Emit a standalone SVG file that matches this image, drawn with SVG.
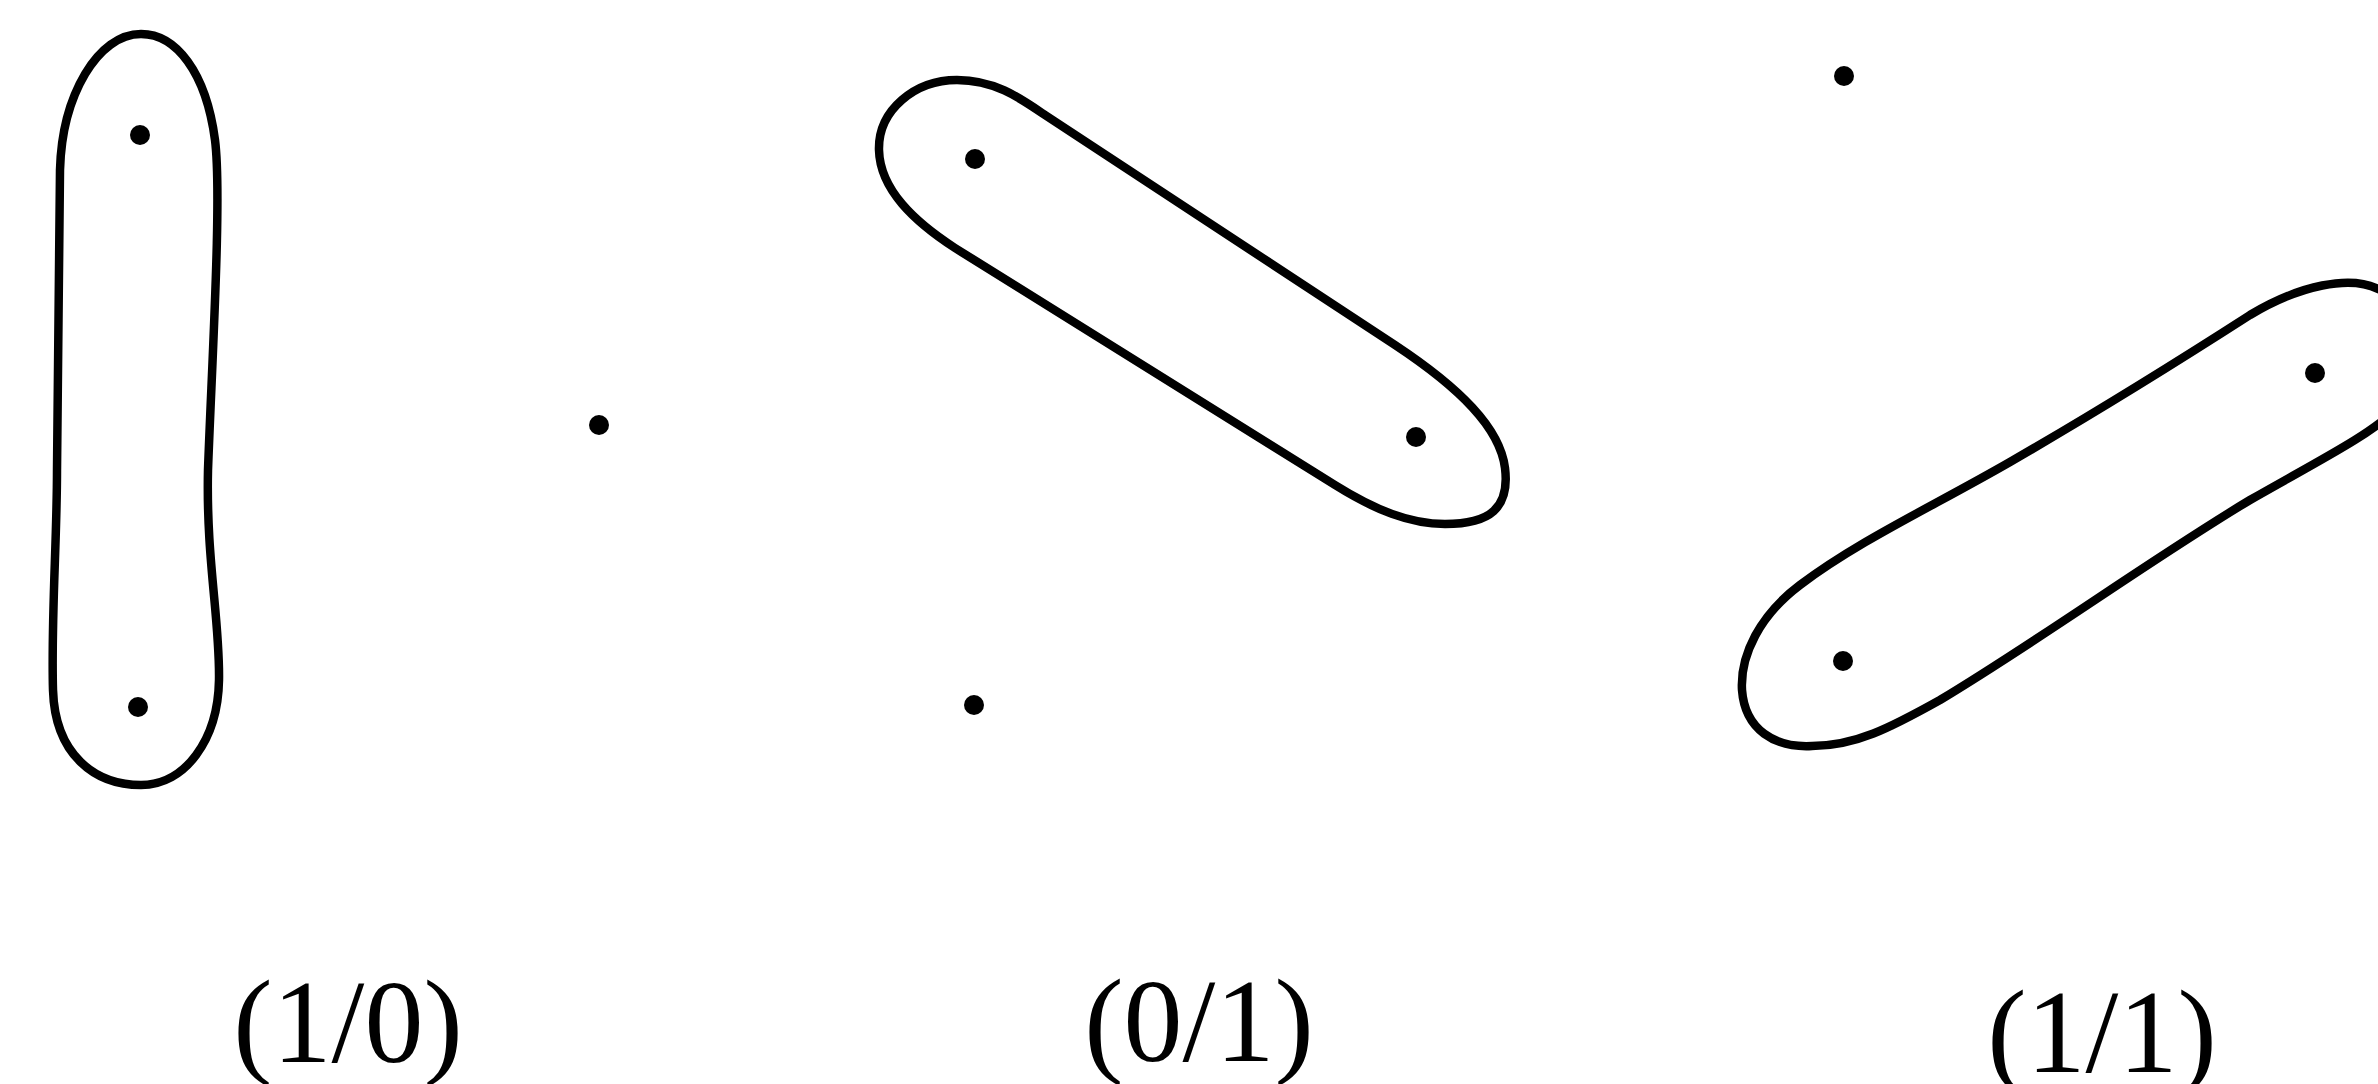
<svg xmlns="http://www.w3.org/2000/svg" width="2378" height="1084" viewBox="0 0 2378 1084">
<style>
.loop{fill:none;stroke:#000;stroke-width:8.5;stroke-linejoin:round}
.pt{fill:#000}
.lbl{font-family:"Liberation Serif","Times New Roman",serif;font-size:118px;fill:#000;text-anchor:middle}
</style>
<rect width="2378" height="1084" fill="#fff"/>
<g id="panel-1-0">
<path class="loop" d="M141,34 C176,34 206,72 215,140 C222,195 212,360 208,470 C206,560 220,620 219,680 C218,740 185,785 141,785 C95,785 55,755 53,690 C51,620 57,540 57,470 C58,380 59,260 60,170 C62,95 98,34 141,34 Z"/>
<circle class="pt" cx="140" cy="135" r="10"/>
<circle class="pt" cx="138" cy="707" r="10"/>
<circle class="pt" cx="599" cy="425" r="10"/>
<text class="lbl" x="348" y="1062">(1/0)</text>
</g>
<g id="panel-0-1">
<path class="loop" d="M957,80 C995,80 1020,98 1045,115 L1395,345 C1460,388 1500,428 1505,468 C1510,508 1490,524 1445,524 C1410,524 1375,510 1335,485 L955,248 C915,222 880,190 879,150 C878,110 915,80 957,80 Z"/>
<circle class="pt" cx="975" cy="159" r="10"/>
<circle class="pt" cx="1416" cy="437" r="10"/>
<circle class="pt" cx="974" cy="705" r="10"/>
<text class="lbl" x="1199" y="1061">(0/1)</text>
</g>
<g id="panel-1-1">
<path class="loop" d="M1812,746 C1855,746 1890,728 1940,700 C2040,640 2150,560 2250,500 C2320,460 2370,435 2395,410 C2420,380 2410,300 2378,289 C2350,275 2300,285 2250,315 C2180,360 2100,410 2010,462 C1930,508 1860,540 1800,585 C1760,615 1740,655 1742,690 C1745,730 1775,748 1812,746 Z"/>
<circle class="pt" cx="1844" cy="76" r="10"/>
<circle class="pt" cx="2315" cy="373" r="10"/>
<circle class="pt" cx="1843" cy="661" r="10"/>
<text class="lbl" x="2102" y="1072">(1/1)</text>
</g>
<g id="connectors"/>
</svg>
